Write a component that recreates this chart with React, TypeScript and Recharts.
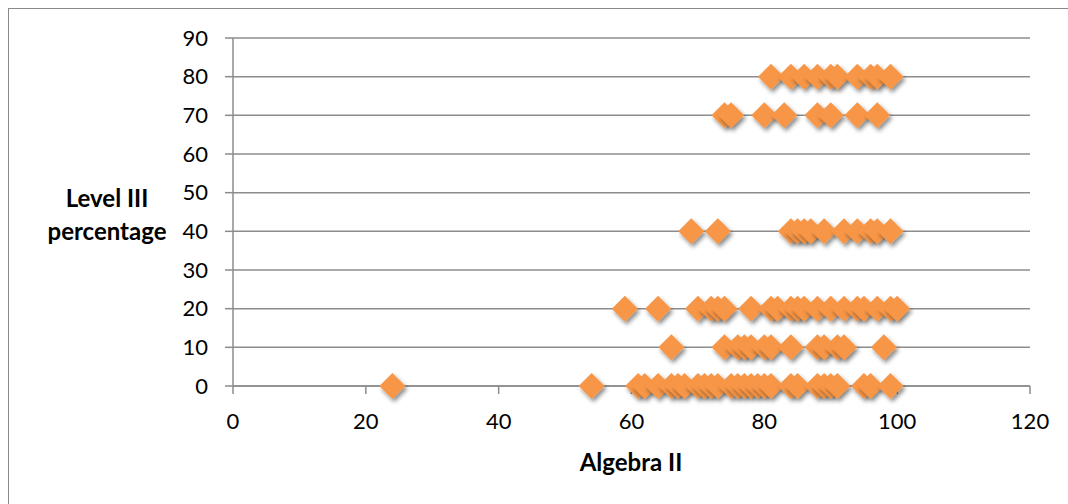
import { ScatterChart, Scatter, XAxis, YAxis, CartesianGrid } from 'recharts'

// Algebra II scores, grouped by Level III percentage
const level0 = [24, 54, 61, 62, 64, 66, 67, 68, 70, 71, 72, 73, 75, 76, 77, 78, 79, 80, 81, 84, 85, 88, 89, 90, 91, 95, 96, 99]
const level10 = [66, 74, 76, 77, 78, 80, 81, 84, 88, 89, 91, 92, 98]
const level20 = [59, 64, 70, 72, 73, 74, 78, 81, 82, 84, 85, 86, 88, 90, 92, 94, 95, 97, 99, 100]
const level40 = [69, 73, 84, 85, 86, 87, 89, 92, 94, 96, 97, 99]
const level70 = [74, 75, 80, 83, 88, 90, 94, 97]
const level80 = [81, 84, 86, 88, 90, 91, 94, 96, 97, 99]

const xTicks = [0, 20, 40, 60, 80, 100, 120]
const yTicks = [0, 10, 20, 30, 40, 50, 60, 70, 80, 90]

const groups: [number, number[]][] = [
  [0, level0],
  [10, level10],
  [20, level20],
  [40, level40],
  [70, level70],
  [80, level80],
]

const points = groups.flatMap(([level, scores]) => scores.map((s) => ({ x: s, y: level })))

const FONT = 'Lato, "Open Sans", sans-serif'
const AXIS = '#8c8c8c'

function Diamond(props: any) {
  const { cx, cy } = props
  if (cx == null || cy == null) return null
  const r = 13
  return (
    <polygon
      points={`${cx},${cy - r} ${cx + r},${cy} ${cx},${cy + r} ${cx - r},${cy}`}
      fill="#F79646"
      filter="url(#diamondShadow)"
    />
  )
}

export default function App() {
  return (
    <div
      style={{
        position: 'fixed',
        left: 8,
        top: 8,
        width: 1060,
        height: 496,
        borderTop: '1px solid #8a8a8a',
        borderLeft: '1px solid #8a8a8a',
        fontFamily: FONT,
        overflow: 'hidden',
        background: '#fff',
      }}
    >
      <ScatterChart width={1059} height={495} margin={{ top: 29, right: 38, bottom: 88, left: 0 }}>
        <defs>
          <filter id="diamondShadow" x="-50%" y="-50%" width="200%" height="200%">
            <feDropShadow dx="2" dy="3" stdDeviation="2" floodColor="#000" floodOpacity="0.45" />
          </filter>
        </defs>
        <CartesianGrid horizontal vertical={false} stroke={AXIS} strokeWidth={1.5} />
        <XAxis
          type="number"
          dataKey="x"
          domain={[0, 120]}
          ticks={xTicks}
          interval={0}
          height={30}
          stroke={AXIS}
          strokeWidth={1.5}
          tickSize={8}
          tickMargin={19}
          tick={{ fill: '#000', fontSize: 22, fontFamily: FONT }}
        />
        <YAxis
          type="number"
          dataKey="y"
          domain={[0, 90]}
          ticks={yTicks}
          interval={0}
          width={224}
          stroke={AXIS}
          strokeWidth={1.5}
          tickSize={8}
          tickMargin={17}
          tick={{ fill: '#000', fontSize: 22, fontFamily: FONT }}
        />
        <Scatter data={points} shape={<Diamond />} isAnimationActive={false} />
      </ScatterChart>
      <div
        style={{
          position: 'absolute',
          left: 28,
          top: 172,
          width: 140,
          textAlign: 'center',
          fontWeight: 700,
          fontSize: 24,
          lineHeight: '33px',
          color: '#000',
        }}
      >
        Level III
        <br />
        percentage
      </div>
      <div
        style={{
          position: 'absolute',
          left: 522,
          top: 438,
          width: 200,
          textAlign: 'center',
          fontWeight: 700,
          fontSize: 24,
          lineHeight: '29px',
          color: '#000',
        }}
      >
        Algebra II
      </div>
    </div>
  )
}
